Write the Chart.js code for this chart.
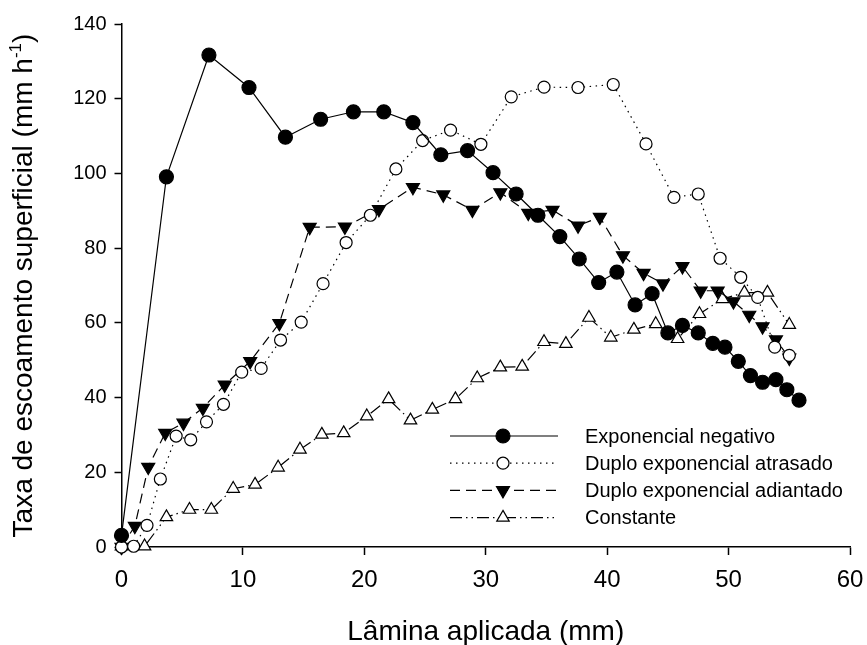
<!DOCTYPE html>
<html lang="pt">
<head>
<meta charset="utf-8">
<title>Taxa de escoamento superficial</title>
<script src="https://cdn.jsdelivr.net/npm/chart.js@4.4.1/dist/chart.umd.min.js"></script>
<style>
  html, body { margin: 0; padding: 0; background: #fff; }
  #wrap { width: 867px; height: 645px; }
</style>
</head>
<body>
<div id="wrap"><canvas id="chart" width="867" height="645"></canvas></div>
<script>
/* ── axes ─────────────────────────────────────────────────────────── */
const X_TICKS = [0, 10, 20, 30, 40, 50, 60];
const Y_TICKS = [0, 20, 40, 60, 80, 100, 120, 140];
const X_TITLE = "Lâmina aplicada (mm)";
const Y_TITLE = "Taxa de escoamento superficial (mm h";

/* ── series ───────────────────────────────────────────────────────── */
const NAMES = [
  "Exponencial negativo",
  "Duplo exponencial atrasado",
  "Duplo exponencial adiantado",
  "Constante",
];

const negX = [0, 3.7, 7.2, 10.5, 13.5, 16.4, 19.1, 21.6, 24.0, 26.3, 28.5, 30.6, 32.5, 34.3, 36.1, 37.7,
              39.3, 40.8, 42.3, 43.7, 45.0, 46.2, 47.5, 48.7, 49.7, 50.8, 51.8, 52.8, 53.9, 54.8, 55.8];
const negY = [3.1, 99.1, 131.7, 123.0, 109.7, 114.5, 116.5, 116.5, 113.6, 105.0, 106.1, 100.2, 94.5, 88.8, 83.1, 77.1,
              70.8, 73.6, 64.8, 67.8, 57.3, 59.3, 57.3, 54.5, 53.5, 49.7, 45.9, 44.1, 44.8, 42.1, 39.3];

const atrX = [0, 1.0, 2.1, 3.2, 4.5, 5.7, 7.0, 8.4, 9.9, 11.5, 13.1, 14.8, 16.6, 18.5, 20.5, 22.6,
              24.8, 27.1, 29.6, 32.1, 34.8, 37.6, 40.5, 43.2, 45.5, 47.5, 49.3, 51.0, 52.4, 53.8, 55.0];
const atrY = [0, 0.2, 5.8, 18.2, 29.7, 28.7, 33.5, 38.2, 46.8, 47.8, 55.4, 60.2, 70.5, 81.5, 88.8, 101.2,
              108.8, 111.6, 107.8, 120.5, 123.1, 123.0, 123.8, 107.9, 93.6, 94.5, 77.3, 72.2, 66.8, 53.5, 51.3];

const adiX = [0, 1.1, 2.2, 3.6, 5.1, 6.7, 8.5, 10.6, 13.0, 15.5, 18.4, 21.2, 24.0, 26.5, 28.9, 31.2,
              33.5, 35.5, 37.6, 39.4, 41.3, 43.0, 44.6, 46.2, 47.7, 49.1, 50.4, 51.7, 52.8, 53.9, 55.0];
const adiY = [0, 5.6, 21.4, 30.5, 33.2, 37.2, 43.4, 49.7, 59.9, 85.6, 85.7, 90.4, 96.3, 94.3, 90.2, 94.9,
              89.4, 90.2, 86.0, 88.3, 78.0, 73.3, 70.5, 75.1, 68.6, 68.6, 65.7, 62.1, 59.0, 55.5, 50.6];

const conX = [0, 1.9, 3.7, 5.6, 7.4, 9.2, 11.0, 12.9, 14.7, 16.5, 18.3, 20.2, 22.0, 23.8, 25.6, 27.5,
              29.3, 31.2, 33.0, 34.8, 36.6, 38.5, 40.3, 42.2, 44.0, 45.8, 47.6, 49.5, 51.3, 53.2, 55.0];
const conY = [0.2, 0.2, 8.0, 10.0, 10.0, 15.6, 16.7, 21.3, 26.1, 30.1, 30.5, 35.0, 39.6, 33.9, 36.8, 39.6,
              45.2, 48.1, 48.3, 54.9, 54.4, 61.4, 56.1, 58.2, 59.7, 55.7, 62.4, 66.4, 68.1, 68.1, 59.5];

const FONT = "'Liberation Sans', Arial, Helvetica, sans-serif";
const pts = (xs, ys) => xs.map((x, i) => ({ x, y: ys[i] }));

/* ── in-plot legend (line sample + marker + label) ────────────────── */
const legendBox = {
  id: "legendBox",
  afterDraw(chart) {
    const { ctx } = chart;
    chart.data.datasets.forEach((ds, i) => {
      const y = 436 + i * 27.2;
      ctx.save();
      ctx.strokeStyle = "#000";
      ctx.lineWidth = ds.borderWidth;
      ctx.setLineDash(ds.borderDash || []);
      ctx.beginPath();
      ctx.moveTo(450, y);
      ctx.lineTo(558, y);
      ctx.stroke();
      ctx.setLineDash([]);
      ctx.fillStyle = ds.pointBackgroundColor;
      ctx.strokeStyle = ds.pointBorderColor;
      ctx.lineWidth = ds.pointBorderWidth;
      Chart.helpers.drawPoint(ctx, {
        pointStyle: ds.pointStyle,
        radius: ds.pointRadius,
        rotation: ds.pointRotation || 0,
        borderWidth: ds.pointBorderWidth,
      }, 503, y);
      ctx.fillStyle = "#000";
      ctx.font = `20px ${FONT}`;
      ctx.textBaseline = "middle";
      ctx.textAlign = "left";
      ctx.fillText(ds.label, 585, y + 1);
      ctx.restore();
    });
  },
};

/* ── axis titles (y title carries a superscript) ──────────────────── */
const axisTitles = {
  id: "axisTitles",
  afterDraw(chart) {
    const { ctx, chartArea: a } = chart;
    ctx.save();
    ctx.fillStyle = "#000";
    ctx.textBaseline = "alphabetic";
    ctx.textAlign = "left";

    ctx.font = `28px ${FONT}`;
    const xw = ctx.measureText(X_TITLE).width;
    ctx.fillText(X_TITLE, (a.left + a.right) / 2 - xw / 2, 640);

    const big = `28px ${FONT}`, small = `17px ${FONT}`;
    ctx.font = big;
    const w1 = ctx.measureText(Y_TITLE).width;
    const w3 = ctx.measureText(")").width;
    ctx.font = small;
    const w2 = ctx.measureText("-1").width;
    const total = w1 + w2 + w3;
    ctx.translate(32, (a.top + a.bottom) / 2);
    ctx.rotate(-Math.PI / 2);
    let x = -total / 2;
    ctx.font = big;
    ctx.fillText(Y_TITLE, x, 0);
    x += w1;
    ctx.font = small;
    ctx.fillText("-1", x, -11);
    x += w2;
    ctx.font = big;
    ctx.fillText(")", x, 0);
    ctx.restore();
  },
};

const line = (label, xs, ys, dash, style, filled, radius, rotation) => ({
  label,
  data: pts(xs, ys),
  showLine: true,
  borderColor: "#000",
  borderWidth: 1.2,
  borderDash: dash,
  pointStyle: style,
  pointRotation: rotation,
  pointRadius: radius,
  pointHoverRadius: radius,
  pointBorderWidth: 1.2,
  pointBorderColor: "#000",
  pointBackgroundColor: filled ? "#000" : "#fff",
  clip: false,
});

// keep the plot box fixed: labels hanging past the ends must not shrink it
const noEdgePadding = (s) => {
  s.paddingLeft = 0; s.paddingRight = 0; s.paddingTop = 0; s.paddingBottom = 0;
};

new Chart(document.getElementById("chart"), {
  type: "scatter",
  data: {
    datasets: [
      line(NAMES[0], negX, negY, [], "circle", true, 7, 0),
      line(NAMES[1], atrX, atrY, [1.5, 4.5], "circle", false, 6, 0),
      line(NAMES[2], adiX, adiY, [10, 6], "triangle", true, 7.5, 180),
      line(NAMES[3], conX, conY, [12, 4, 1.5, 4, 1.5, 4], "triangle", false, 7.2, 0),
    ],
  },
  options: {
    responsive: false,
    devicePixelRatio: 1,
    animation: false,
    events: [],
    layout: { padding: { top: 24, right: 17, bottom: 0, left: 0 } },
    plugins: { legend: { display: false }, tooltip: { enabled: false } },
    scales: {
      x: {
        type: "linear",
        min: 0,
        max: 60,
        afterBuildTicks: (s) => { s.ticks = X_TICKS.map((v) => ({ value: v })); },
        afterFit: (s) => { s.height = 98; noEdgePadding(s); },
        grid: { display: true, drawOnChartArea: false, drawTicks: true, tickLength: 8, tickWidth: 1.5, tickColor: "#000" },
        border: { display: true, color: "#000", width: 1.5 },
        ticks: { color: "#000", font: { family: FONT, size: 24 }, padding: 11, maxRotation: 0 },
      },
      y: {
        type: "linear",
        min: 0,
        max: 140,
        afterBuildTicks: (s) => { s.ticks = Y_TICKS.map((v) => ({ value: v })); },
        afterFit: (s) => { s.width = 121.5; noEdgePadding(s); },
        grid: { display: true, drawOnChartArea: false, drawTicks: true, tickLength: 7, tickWidth: 1.5, tickColor: "#000" },
        border: { display: true, color: "#000", width: 1.5 },
        ticks: { color: "#000", font: { family: FONT, size: 20 }, padding: 8 },
      },
    },
  },
  plugins: [legendBox, axisTitles],
});
</script>
</body>
</html>
